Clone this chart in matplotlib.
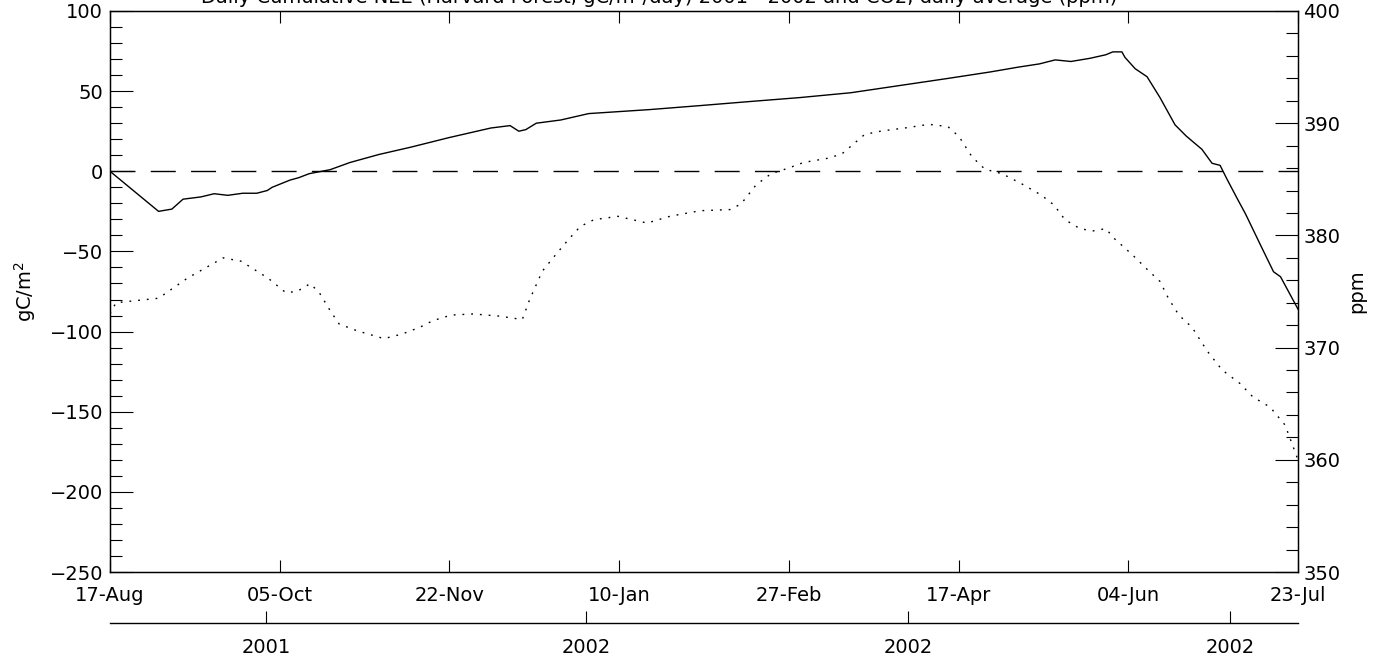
import matplotlib
matplotlib.use("Agg")
import matplotlib.pyplot as plt
from matplotlib.ticker import MultipleLocator

plt.rcParams['font.family'] = ['DejaVu Sans']
plt.rcParams['font.size'] = 14

# ---- data (x = days since 17-Aug-2001) ----
nee_days = [0, 13.9, 17.7, 20.9, 26, 29.8, 33.7, 38, 42, 45, 46.4, 51.5, 54, 57, 63,
            68.7, 77, 86, 97, 109, 114.5, 117, 119, 122, 129, 137, 154.5, 169, 183, 197.5,
            212, 226, 240, 252, 260, 266, 270.5, 275, 280.5, 285, 287, 289.6, 290.5, 293.4,
            296.8, 300.5, 304.8, 308, 312.5, 315.4, 317.7, 319.7, 322.7, 325, 329.4, 333,
            335, 340]
nee_vals = [0, -25, -23.6, -17.4, -16, -14, -15, -13.7, -13.7, -12, -10, -5.5, -4, -1.5, 1,
            5.5, 10.5, 15, 21, 27, 28.5, 25, 26, 30, 32, 36, 38.5, 41, 43.5, 46,
            49, 53.5, 58, 62, 65, 67, 69.5, 68.5, 70.5, 72.7, 74.5, 74.5, 71, 64,
            59, 46, 29, 22, 13.7, 5, 3.7, -5, -17.4, -26.7, -46.6, -62.7,
            -65.8, -86]

co2_days = [0, 1.7, 13.9, 22.2, 32.4, 37.5, 45.2, 50.3, 53.5, 57.3, 59.9, 63, 65.6, 70.7, 78.4,
            83.5, 88.6, 92.4, 97.6, 104, 111.6, 118, 120, 123.7, 127.6, 131.4, 134.6, 138.5,
            145.4, 153.7, 160.2, 168.9, 177.4, 180.6, 184.9, 189.2, 194.2, 198.5, 205.9,
            209.6, 216, 220.7, 228.1, 234.4, 239.8, 243, 246.7, 250.4, 255.3, 260.9, 266.5,
            270.2, 273.3, 277.6, 281.3, 285, 287.5, 292.5, 297.4, 300.5, 302.9, 305.9, 309.7,
            314, 318.3, 323.4, 327.1, 332, 336.3, 340]
co2_ppm = [373.0, 374, 374.4, 376.2, 378, 377.7, 376.2, 374.9, 375, 375.7, 374.9, 373.3, 372.1,
           371.5, 370.8, 371.2, 371.8, 372.4, 372.9, 373, 372.8, 372.5, 374.2, 376.8, 378.3,
           379.7, 380.8, 381.4, 381.7, 381.1, 381.7, 382.2, 382.3, 382.8, 384.5, 385.5, 386,
           386.5, 386.9, 387.3, 389, 389.3, 389.6, 389.9, 389.7, 388.8, 387, 385.9, 385.5,
           384.6, 383.6, 382.7, 381.4, 380.6, 380.4, 380.6, 379.7, 378.3, 376.8, 375.9, 374.4,
           372.9, 371.8, 369.7, 368, 366.8, 365.6, 364.7, 363.1, 360.0]

date_labels = ['17-Aug', '05-Oct', '22-Nov', '10-Jan', '27-Feb', '17-Apr', '04-Jun', '23-Jul']
year_labels = ['2001', '2002', '2002', '2002']
year_days = [44.6, 136.2, 228.4, 320.5]
n_days = 340

title = 'Daily Cumulative NEE (Harvard Forest, gC/m\u00b2/day) 2001 - 2002 and CO2, daily average (ppm)'

# ---- figure ----
fig = plt.figure(figsize=(13.74, 6.58), dpi=100)
L, R, T, B = 110, 1298, 11, 572
W, H = 1374, 658
ax = fig.add_axes([L / W, 1 - B / H, (R - L) / W, (B - T) / H])

ax.plot(nee_days, nee_vals, color='black', lw=1.0)
ax.axhline(0, color='black', lw=1.0, dashes=(18, 11))
ax.set_xlim(0, n_days)
ax.set_ylim(-250, 100)
ax.yaxis.set_major_locator(MultipleLocator(50))
ax.yaxis.set_minor_locator(MultipleLocator(10))
xt = [i * n_days / 7 for i in range(8)]
ax.set_xticks(xt)
ax.set_xticklabels(date_labels)
ax.tick_params(axis='x', which='both', direction='in', length=8.5, width=0.8, top=True,
               pad=10, labelsize=14)
ax.tick_params(axis='y', which='major', direction='in', length=16.5, width=0.8, pad=5,
               labelsize=14)
ax.tick_params(axis='y', which='minor', direction='in', length=8.5, width=0.8)
ax.set_ylabel('gC/m$^2$', fontsize=14, labelpad=8)
for s in ax.spines.values():
    s.set_linewidth(1.0)

ax2 = ax.twinx()
ax2.plot(co2_days, co2_ppm, color='black', lw=1.0, dashes=(1.3, 5))
ax2.set_ylim(350, 400)
ax2.yaxis.set_major_locator(MultipleLocator(10))
ax2.yaxis.set_minor_locator(MultipleLocator(2))
ax2.tick_params(axis='y', which='major', direction='in', length=16.5, width=0.8, pad=4,
                labelsize=14)
ax2.tick_params(axis='y', which='minor', direction='in', length=8.5, width=0.8)
ax2.set_ylabel('ppm', fontsize=14, rotation=90, labelpad=5)

# secondary (year) axis
ya = 623
ax3 = fig.add_axes([L / W, 1 - ya / H, (R - L) / W, 0.0001])
ax3.set_xlim(0, n_days)
ax3.set_ylim(0, 1)
ax3.patch.set_visible(False)
for k in ['top', 'left', 'right']:
    ax3.spines[k].set_visible(False)
ax3.spines['bottom'].set_linewidth(1.0)
ax3.set_yticks([])
ax3.set_xticks(year_days)
ax3.set_xticklabels(year_labels)
ax3.tick_params(axis='x', direction='in', length=8.5, width=0.8, pad=11, labelsize=14)

fig.text(0.48, 1 - 3 / H, title, ha='center', va='baseline', fontsize=14)

fig.savefig('out.png', dpi=100)
